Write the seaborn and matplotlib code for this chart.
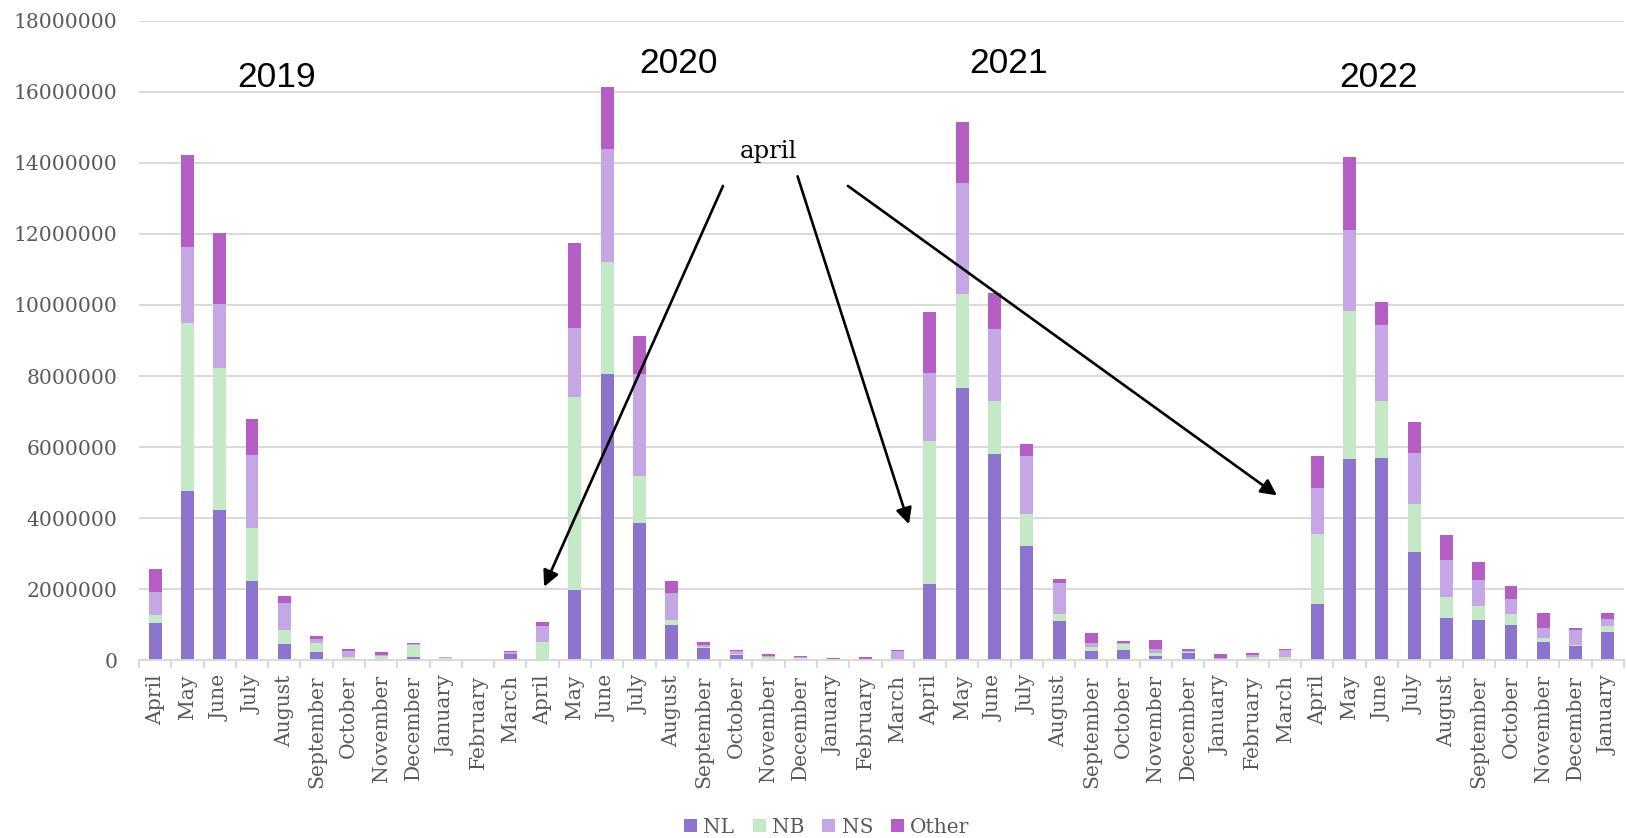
import numpy as np
import pandas as pd
import matplotlib
matplotlib.use("Agg")
import matplotlib.pyplot as plt
from matplotlib.patches import Patch
import seaborn as sns

# Monthly arrivals, April 2019 - January 2023
months = ["April", "May", "June", "July", "August", "September", "October",
          "November", "December", "January", "February", "March"] * 3 + \
         ["April", "May", "June", "July", "August", "September", "October",
          "November", "December", "January"]

nl = [1050000, 4760000, 4230000, 2220000, 470000, 230000, 40000, 10000, 80000, 10000, 5000, 180000,
      0, 1980000, 8050000, 3860000, 990000, 340000, 160000, 30000, 50000, 10000, 10000, 0,
      2140000, 7650000, 5800000, 3220000, 1100000, 270000, 300000, 130000, 210000, 30000, 50000, 0,
      1590000, 5670000, 5700000, 3040000, 1190000, 1140000, 980000, 520000, 410000, 800000]
nb = [220000, 4740000, 4010000, 1500000, 380000, 260000, 50000, 120000, 350000, 60000, 10000, 5000,
      510000, 5440000, 3160000, 1320000, 140000, 30000, 10000, 50000, 20000, 3000, 10000, 10000,
      4030000, 2670000, 1490000, 900000, 190000, 100000, 170000, 70000, 30000, 20000, 50000, 80000,
      1960000, 4150000, 1610000, 1370000, 600000, 390000, 310000, 110000, 20000, 160000]
ns = [650000, 2140000, 1780000, 2070000, 750000, 120000, 180000, 30000, 20000, 10000, 20000, 40000,
      450000, 1940000, 3170000, 2870000, 770000, 50000, 80000, 40000, 20000, 30000, 30000, 240000,
      1920000, 3120000, 2040000, 1640000, 880000, 110000, 30000, 110000, 10000, 10000, 40000, 220000,
      1290000, 2300000, 2120000, 1410000, 1040000, 730000, 440000, 270000, 410000, 200000]
other = [640000, 2580000, 2000000, 990000, 210000, 60000, 40000, 60000, 30000, 20000, 5000, 40000,
         120000, 2370000, 1760000, 1090000, 320000, 90000, 40000, 60000, 30000, 10000, 40000, 50000,
         1720000, 1720000, 1000000, 320000, 120000, 290000, 50000, 250000, 80000, 120000, 60000, 20000,
         910000, 2050000, 660000, 900000, 700000, 520000, 360000, 420000, 60000, 160000]

series_names = ["NL", "NB", "NS", "Other"]
palette = {"NL": "#8C74CE", "NB": "#C5E8C6", "NS": "#C6A7E6", "Other": "#B45EC4"}

sns.set_theme(style="white")
plt.rcParams["font.family"] = ["DejaVu Serif"]

W, H = 1627, 838
fig = plt.figure(figsize=(W / 100, H / 100), dpi=100)
ax = fig.add_axes([139 / W, 1 - 660.3 / H, (1624 - 139) / W, (660.3 - 20.7) / H])

df = pd.DataFrame({"pos": np.arange(len(months)), "NL": nl, "NB": nb, "NS": ns, "Other": other})
stacked = df[series_names].cumsum(axis=1)

# Stack by overdrawing cumulative totals, top segment first
for name in reversed(series_names):
    sns.barplot(x=df["pos"], y=stacked[name], color=palette[name], width=0.4,
                saturation=1, linewidth=0, errorbar=None, ax=ax)

grid_c = "#D9D9D9"
text_c = "#595959"
ax.set_xlabel("")
ax.set_ylabel("")
ax.set_ylim(0, 18000000)
ax.set_xlim(-0.5, len(months) - 0.5)
yt = np.arange(0, 18000001, 2000000)
ax.set_yticks(yt)
ax.set_yticklabels([str(int(v)) for v in yt])
ax.yaxis.grid(True, color=grid_c, lw=1.4)
ax.set_axisbelow(True)
for s in ["left", "top", "right"]:
    ax.spines[s].set_visible(False)
ax.spines["bottom"].set_color(grid_c)
ax.spines["bottom"].set_linewidth(1.4)

ax.set_xticks(np.arange(len(months)))
ax.set_xticklabels(months, rotation=90)
ax.set_xticks(np.arange(-0.5, len(months), 1), minor=True)
ax.tick_params(axis="x", which="major", length=0, pad=10.5, labelsize=14.6, labelcolor=text_c)
ax.tick_params(axis="x", which="minor", length=6, width=1.4, color=grid_c, bottom=True)
ax.tick_params(axis="y", length=0, pad=15.5, labelsize=14.6, labelcolor=text_c)

# Year headings
for label, xp, yp in [("2019", 3.77, 16130000), ("2020", 16.22, 16540000),
                      ("2021", 26.44, 16540000), ("2022", 37.9, 16130000)]:
    ax.text(xp, yp, label, ha="center", va="baseline", fontsize=25.5,
            family=["Liberation Sans", "DejaVu Sans"], color="black")

# April callout with arrows
ax.text(18.99, 14150000, "april", ha="center", va="baseline", fontsize=17.5, color="black")
arrow_kw = dict(arrowstyle="-|>", mutation_scale=24, lw=1.9, color="black",
                shrinkA=0, shrinkB=0)
for tail, head in [((17.59, 13350000), (12.05, 2070000)),
                   ((19.9, 13620000), (23.35, 3830000)),
                   ((21.46, 13350000), (34.75, 4640000))]:
    ax.annotate("", xy=head, xytext=tail, arrowprops=arrow_kw)

handles = [Patch(facecolor=palette[n], edgecolor="none") for n in series_names]
fig.legend(handles, series_names, loc="center", bbox_to_anchor=(827 / W, 1 - 827 / H),
           ncol=4, frameon=False, fontsize=14.5, handlelength=0.65, handleheight=0.65,
           handletextpad=0.3, columnspacing=0.9, labelcolor=text_c)

fig.savefig("out.png", dpi=100)
